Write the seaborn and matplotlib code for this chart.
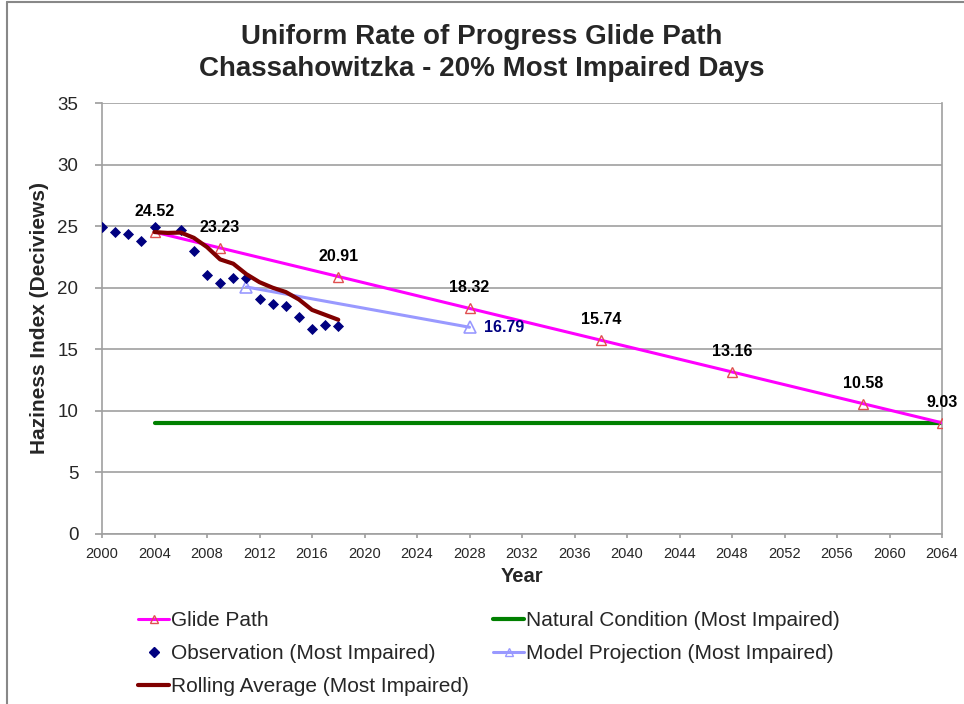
import matplotlib
matplotlib.use("Agg")
import matplotlib.pyplot as plt
import seaborn as sns
import pandas as pd
from matplotlib.lines import Line2D

# ---- data ----
glide_years = [2004, 2009, 2018, 2028, 2038, 2048, 2058, 2064]
glide_vals = [24.52, 23.23, 20.91, 18.32, 15.74, 13.16, 10.58, 9.03]

natural_years = [2004, 2064]
natural_vals = [9.03, 9.03]

obs_years = [2000, 2001, 2002, 2003, 2004, 2006, 2007, 2008, 2009, 2010,
             2011, 2012, 2013, 2014, 2015, 2016, 2017, 2018]
obs_vals = [24.96, 24.56, 24.34, 23.83, 24.96, 24.70, 23.00, 21.04, 20.36, 20.82,
            20.80, 19.05, 18.71, 18.52, 17.63, 16.68, 16.98, 16.90]

proj_years = [2011, 2028]
proj_vals = [20.06, 16.79]

roll_years = [2004, 2005, 2006, 2007, 2008, 2009, 2010, 2011, 2012, 2013,
              2014, 2015, 2016, 2017, 2018]
roll_vals = [24.52, 24.45, 24.48, 24.05, 23.30, 22.30, 21.95, 21.10, 20.45, 20.00,
             19.65, 19.05, 18.20, 17.80, 17.40]

xticks = list(range(2000, 2065, 4))
yticks = list(range(0, 36, 5))

title = "Uniform Rate of Progress Glide Path\nChassahowitzka - 20% Most Impaired Days"

# ---- styling ----
sns.set_theme(style="white")
plt.rcParams['font.family'] = ['Liberation Sans', 'DejaVu Sans']

fig = plt.figure(figsize=(9.64, 7.04), dpi=100)
ax = fig.add_axes([102/964, 1-534/704, (942-102)/964, (534-103)/704])

c_glide = "#FF00FF"
c_nat = "#008000"
c_obs = "#000080"
c_proj = "#9999FF"
c_roll = "#800000"
c_tri = "#E05050"

sns.lineplot(x=natural_years, y=natural_vals, ax=ax, color=c_nat, linewidth=3, zorder=2)
sns.lineplot(x=glide_years, y=glide_vals, ax=ax, color=c_glide, linewidth=2.2,
             marker="^", markersize=7, markerfacecolor="none",
             markeredgecolor=c_tri, markeredgewidth=1.0, zorder=3)
sns.lineplot(x=proj_years, y=proj_vals, ax=ax, color=c_proj, linewidth=2.2,
             marker="^", markersize=8, markerfacecolor="none",
             markeredgecolor=c_proj, markeredgewidth=1.2, zorder=3)
sns.scatterplot(x=obs_years, y=obs_vals, ax=ax, color=c_obs, marker="D", s=32,
                edgecolor=c_obs, linewidth=0, zorder=4)
sns.lineplot(x=roll_years, y=roll_vals, ax=ax, color=c_roll, linewidth=3, zorder=5)

# data labels
for x, y in zip(glide_years, glide_vals):
    ax.text(x, y + 1.05, f"{y:.2f}", ha="center", va="bottom", fontsize=11.5,
            fontweight="bold", color="black", zorder=6)
ax.text(proj_years[-1] + 1.1, proj_vals[-1], f"{proj_vals[-1]:.2f}", ha="left",
        va="center", fontsize=11.5, fontweight="bold", color=c_obs, zorder=6)

ax.set_xlim(2000, 2064)
ax.set_ylim(0, 35)
ax.set_xticks(xticks)
ax.set_xticklabels([str(t) for t in xticks], fontsize=10.5)
ax.set_yticks(yticks)
ax.set_yticklabels([str(t) for t in yticks], fontsize=13.5)
ax.grid(axis="y", color="#A0A0A0", linewidth=1.2)
ax.set_axisbelow(True)
ax.spines["top"].set_visible(False)
for s in ["left", "bottom", "right"]:
    ax.spines[s].set_color("#A0A0A0")
    ax.spines[s].set_linewidth(1.2)
ax.tick_params(axis="x", which="major", length=3, color="#A0A0A0",
               direction="out", bottom=True, pad=6)
ax.tick_params(axis="y", which="major", length=5, color="#A0A0A0",
               direction="out", left=True, pad=12)
ax.set_xlabel("Year", fontsize=14.5, fontweight="bold", labelpad=5)
ax.set_ylabel("Haziness Index (Deciviews)", fontsize=15, fontweight="bold", labelpad=6)

fig.suptitle(title, fontsize=20, fontweight="bold", y=0.966, va="top",
             linespacing=1.3)

h_glide = Line2D([], [], color=c_glide, linewidth=2.2, marker="^", markersize=6,
                 markerfacecolor="none", markeredgecolor=c_tri)
h_obs = Line2D([], [], color=c_obs, linestyle="none", marker="D", markersize=5)
h_roll = Line2D([], [], color=c_roll, linewidth=3)
h_nat = Line2D([], [], color=c_nat, linewidth=3)
h_proj = Line2D([], [], color=c_proj, linewidth=2.2, marker="^", markersize=6,
                markerfacecolor="none", markeredgecolor=c_proj)

leg_kw = dict(frameon=False, fontsize=15, loc="upper left", handlelength=1.5,
              handletextpad=0.1, labelspacing=0.68, borderaxespad=0, borderpad=0)
leg1 = fig.legend([h_glide, h_obs, h_roll],
                  ["Glide Path", "Observation (Most Impaired)",
                   "Rolling Average (Most Impaired)"],
                  bbox_to_anchor=(138/964, 1-611/704), **leg_kw)
leg2 = fig.legend([h_nat, h_proj],
                  ["Natural Condition (Most Impaired)",
                   "Model Projection (Most Impaired)"],
                  bbox_to_anchor=(493/964, 1-611/704), **leg_kw)

# outer frame (top and left edges visible)
fig.add_artist(Line2D([7/964, 1.0], [1-2/704, 1-2/704], transform=fig.transFigure,
                      color="#888888", linewidth=1.5))
fig.add_artist(Line2D([7/964, 7/964], [0.0, 1-2/704], transform=fig.transFigure,
                      color="#888888", linewidth=1.5))

fig.savefig("out.png", dpi=100)
